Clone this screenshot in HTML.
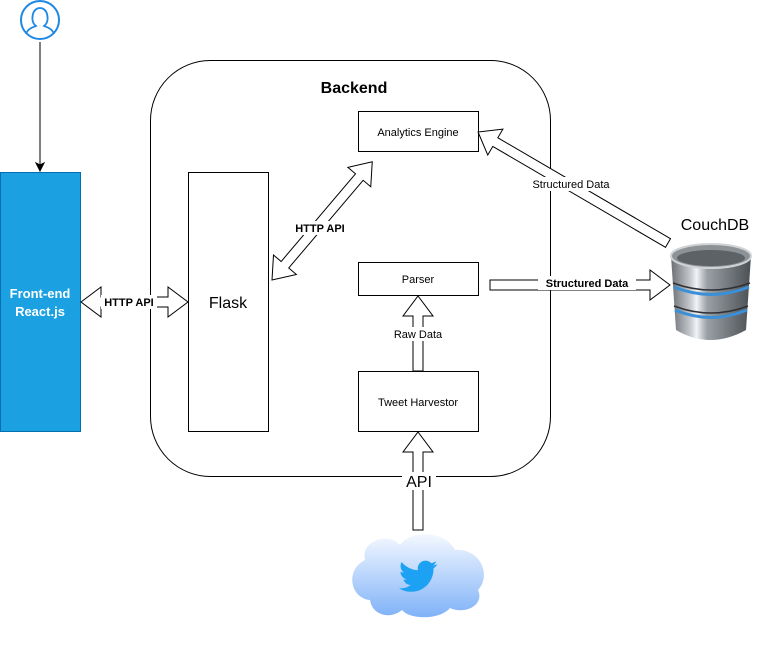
<!DOCTYPE html>
<html><head><meta charset="utf-8"><style>
html,body{margin:0;padding:0;background:#fff;}
svg{display:block;font-family:"Liberation Sans",Arial,sans-serif;}
</style></head><body>
<svg width="761" height="652" viewBox="0 0 761 652" xmlns="http://www.w3.org/2000/svg">
<defs>
<linearGradient id="cl" x1="0" y1="0" x2="0" y2="1"><stop offset="0" stop-color="#f4f8ff"/><stop offset="1" stop-color="#7fb2f8"/></linearGradient>
<linearGradient id="db" x1="0" y1="0" x2="1" y2="0"><stop offset="0" stop-color="#6b6f73"/><stop offset="0.25" stop-color="#c9cdd1"/><stop offset="0.32" stop-color="#f2f4f5"/><stop offset="0.45" stop-color="#9aa0a5"/><stop offset="1" stop-color="#4b5054"/></linearGradient>
</defs>
<circle cx="40" cy="20" r="19" fill="#fff" stroke="#1e88e5" stroke-width="2"/>
<path d="M26,34 C28,28 34,27 36,26 C32,23 32,18 33,14 C34,10 37,8 40,8 C43,8 46,10 47,14 C48,18 48,23 44,26 C46,27 52,28 54,34" fill="none" stroke="#1e88e5" stroke-width="1.8"/>
<line x1="40" y1="42" x2="40" y2="166" stroke="#000" stroke-width="1"/>
<polygon points="40,171 36,163 40,165 44,163" fill="#000" stroke="#000"/>
<rect x="150.5" y="60.5" width="400" height="416" rx="60" fill="none" stroke="#000"/>
<text x="354" y="93" font-size="16" font-weight="bold" text-anchor="middle">Backend</text>
<rect x="0.5" y="172.5" width="80" height="259" fill="#1ba1e2" stroke="#006eaf"/>
<text x="40" y="298" font-size="13" font-weight="bold" fill="#fff" text-anchor="middle">Front-end</text>
<text x="40" y="316" font-size="13" font-weight="bold" fill="#fff" text-anchor="middle">React.js</text>
<rect x="188.5" y="172.5" width="80" height="259" fill="#fff" stroke="#000"/>
<text x="228" y="308" font-size="16" text-anchor="middle">Flask</text>
<rect x="358.5" y="111.5" width="120" height="40" fill="#fff" stroke="#000"/>
<text x="418" y="136" font-size="11" text-anchor="middle">Analytics Engine</text>
<rect x="358.5" y="262.5" width="120" height="33" fill="#fff" stroke="#000"/>
<text x="418" y="283" font-size="11" text-anchor="middle">Parser</text>
<rect x="358.5" y="371.5" width="120" height="60" fill="#fff" stroke="#000"/>
<text x="418" y="406" font-size="11" text-anchor="middle">Tweet Harvestor</text>
<g fill="#fff" stroke="#000" stroke-width="1">
<polygon transform="translate(81,302)" points="0,0 20,-15 20,-5 87,-5 87,-15 107,0 87,15 87,5 20,5 20,15"/>
<polygon transform="translate(272,280) rotate(-49.7)" points="0,0 20,-15 20,-5 135,-5 135,-15 155,0 135,15 135,5 20,5 20,15"/>
<polygon transform="translate(418,371) rotate(-90)" points="0,-5 55,-5 55,-15 75,0 55,15 55,5 0,5"/>
<polygon transform="translate(418,530) rotate(-90)" points="0,-5 78,-5 78,-15 98,0 78,15 78,5 0,5"/>
<polygon transform="translate(490,285)" points="0,-5 160,-5 160,-15 180,0 160,15 160,5 0,5"/>
<polygon transform="translate(668,243) rotate(-149.7)" points="0,-5 200,-5 200,-15 220,0 200,15 200,5 0,5"/>
</g>
<rect x="101" y="295" width="56" height="14" fill="#fff"/>
<text x="129" y="306" font-size="11" font-weight="bold" text-anchor="middle">HTTP API</text>
<rect x="291" y="221" width="58" height="14" fill="#fff"/>
<text x="320" y="232" font-size="11" font-weight="bold" text-anchor="middle">HTTP API</text>
<rect x="388" y="327" width="60" height="14" fill="#fff"/>
<text x="418" y="338" font-size="11" text-anchor="middle">Raw Data</text>
<rect x="402" y="472" width="34" height="18" fill="#fff"/>
<text x="419" y="487" font-size="16" text-anchor="middle">API</text>
<rect x="538" y="276" width="98" height="14" fill="#fff"/>
<text x="587" y="287" font-size="11" font-weight="bold" text-anchor="middle">Structured Data</text>
<rect x="524" y="177" width="94" height="14" fill="#fff"/>
<text x="571" y="188" font-size="11" text-anchor="middle">Structured Data</text>
<text x="715" y="230" font-size="16" text-anchor="middle">CouchDB</text>
<path d="M671,256 L676,330 Q710,350 746,330 L751,256 Z" fill="url(#db)"/>
<ellipse cx="711" cy="256" rx="40" ry="12" fill="#8d9296" stroke="#cfd3d6" stroke-width="2"/>
<ellipse cx="711" cy="258" rx="34" ry="8" fill="#5d6266"/>
<path d="M674,287 Q711,302 749,287" fill="none" stroke="#3a8fd9" stroke-width="3"/>
<path d="M675,310 Q711,325 747,310" fill="none" stroke="#3a8fd9" stroke-width="3"/>
<path d="M673,283 Q711,297 750,283" fill="none" stroke="#2e3236" stroke-width="1.5"/>
<path d="M674,306 Q711,320 748,306" fill="none" stroke="#2e3236" stroke-width="1.5"/>
<path d="M370,600 C350,598 345,570 365,560 C360,540 390,532 400,545 C410,530 445,530 455,550 C480,548 492,575 478,590 C485,605 465,615 450,608 C440,620 410,620 402,610 C390,620 372,615 370,600 Z" fill="url(#cl)"/>
<path transform="translate(399,557) scale(1.6)" fill="#1da1f2" d="M23.953 4.57a10 10 0 01-2.825.775 4.958 4.958 0 002.163-2.723c-.951.555-2.005.959-3.127 1.184a4.92 4.92 0 00-8.384 4.482C7.69 8.095 4.067 6.13 1.64 3.162a4.822 4.822 0 00-.666 2.475c0 1.71.87 3.213 2.188 4.096a4.904 4.904 0 01-2.228-.616v.06a4.923 4.923 0 003.946 4.827 4.996 4.996 0 01-2.212.085 4.936 4.936 0 004.604 3.417 9.867 9.867 0 01-6.102 2.105c-.39 0-.779-.023-1.17-.067a13.995 13.995 0 007.557 2.209c9.053 0 13.998-7.496 13.998-13.985 0-.21 0-.42-.015-.63A9.935 9.935 0 0024 4.59z"/>
</svg>
</body></html>
